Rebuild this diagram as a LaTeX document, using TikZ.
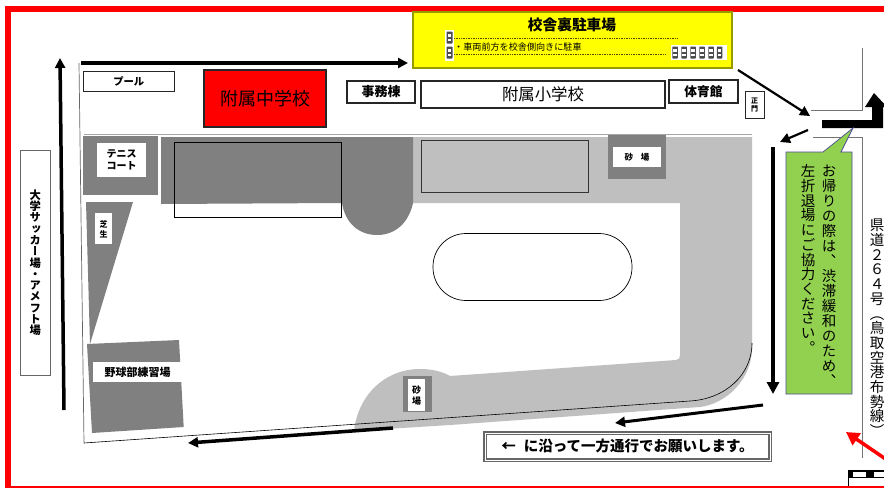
\documentclass[tikz,border=0pt]{standalone}
\usepackage{fontspec}
\setmainfont{Noto Sans CJK JP}
\newfontfamily\vjp[RawFeature=+vert]{Noto Sans CJK JP}
\usetikzlibrary{arrows.meta}
\definecolor{dk}{HTML}{808080}
\definecolor{lt}{HTML}{BFBFBF}
\definecolor{grn}{HTML}{92D050}
\definecolor{yel}{HTML}{FFFF00}
\definecolor{rd}{HTML}{FF0000}
\makeatletter
\newcommand{\vst}[2]{\vbox{\vjp\offinterlineskip\@tfor\vc:=#2\do{\hbox to #1{\vrule height .86\dimexpr#1\relax depth .14\dimexpr#1\relax width 0pt \hss\smash{\vc}\hss}}}}
\makeatother
\tikzset{
 x=1pt,y=-1pt,
 box/.style={draw=black!85,line width=1.1pt,fill=white,inner sep=0pt,font=\bfseries\fontsize{13}{14}\selectfont},
 lab/.style={fill=white,inner sep=0pt,font=\bfseries\fontsize{10}{12}\selectfont},
 arw/.style={draw=black,line width=#1,-{Triangle[length=10pt,width=10pt]}},
 arw/.default=3pt,
 thin line/.style={draw=black!55,line width=.6pt}
}
\newcommand{\car}[3]{\fill[black!70,rounded corners=.6pt] (#1-#3*.5,#2-6) rectangle (#1+#3*.5,#2+6);
 \fill[white] (#1-#3*.3,#2-3.5) rectangle (#1+#3*.3,#2-1); \fill[white] (#1-#3*.3,#2+1) rectangle (#1+#3*.3,#2+3.5);}
\begin{document}
\begin{tikzpicture}
\useasboundingbox (0,0) rectangle (884,488);
\fill[white] (0,0) rectangle (884,488);
% frame
\fill[rd] (5,6) rectangle (884,12);
\fill[rd] (5,6) rectangle (11,488);
\fill[rd] (5,486) rectangle (884,488);
% grounds
\fill[lt] (413,137) -- (752,137) -- (752,343) .. controls (754,380) and (725,404) .. (700,407) -- (450,425) -- (354,431)
  .. controls (358,395) and (385,369) .. (420,369) .. controls (431,369) and (441,371) .. (450,376)
  -- (676,360) .. controls (679,360) and (680,358) .. (680,355) -- (680,203) -- (413,203) -- cycle;
\fill[dk] (161,137) -- (413,137) -- (413,203) .. controls (409,222) and (396,235) .. (377,235) .. controls (358,235) and (345,222) .. (342,203) -- (161,204) -- cycle;
% site outline
\coordinate (sa) at (79,63); \coordinate (sb) at (84,443); \coordinate (sc) at (690,401); \coordinate (sd) at (752,343);
\draw[black!60,line width=.7pt] (sa) -- (sb);
\draw[black,line width=.6pt] (sb) -- (sc) .. controls (725,399) and (752,375) .. (sd);
\draw[black!35,line width=1pt] (84,134.5) -- (752,134.5);
\draw[black,line width=.7pt] (174.5,142) rectangle (341.5,217);
\draw[black!80,fill=lt,line width=.7pt] (421,140) rectangle (588,192);
\draw[black,fill=white,line width=.7pt,rounded corners=33pt] (433,233.5) rectangle (632,300.5);
% dark areas
\fill[dk] (83,136) rectangle (158,195);
\node[lab,minimum width=49pt,minimum height=34pt,align=center] (tennis) at (121.5,159.5) {テニス\\コート};
\fill[dk] (86,202) -- (133,202) -- (90,344) -- cycle;
\node[lab,minimum width=17pt,minimum height=31pt,font=\bfseries\fontsize{8}{9}\selectfont] (shiba) at (103.5,228.5) {\vst{10pt}{芝生}};
\fill[dk] (87,344) -- (179,340) -- (183.7,427) -- (92,433) -- cycle;
\node[lab,minimum width=88.5pt,minimum height=20pt,font=\bfseries\fontsize{11}{12}\selectfont] (yakyu) at (137.5,372) {野球部練習場};
\fill[dk] (608,135) rectangle (666,179);
\node[lab,minimum width=48pt,minimum height=20pt,font=\bfseries\fontsize{8.5}{9}\selectfont] (suna1) at (637,157) {砂\hspace{.9em}場};
\fill[dk] (403,376) rectangle (432,412);
\node[lab,minimum width=17pt,minimum height=32pt,font=\bfseries\fontsize{9}{10}\selectfont] (suna2) at (416.5,395) {\vst{10.5pt}{砂場}};
% buildings
\node[box,minimum width=91pt,minimum height=20pt,line width=.7pt,font=\bfseries\fontsize{10.3}{11}\selectfont] (pool) at (128.7,81) {プール};
\node[box,fill=rd,minimum width=122pt,minimum height=57pt,font=\fontsize{18}{20}\selectfont] (jhs) at (265,98.5) {附属中学校};
\node[box,minimum width=68pt,minimum height=22pt] (office) at (381,92) {事務棟};
\node[box,minimum width=244pt,minimum height=27pt,font=\fontsize{16.4}{18}\selectfont] (es) at (543,94.5) {附属小学校};
\node[box,minimum width=69pt,minimum height=23pt,font=\bfseries\fontsize{12.7}{14}\selectfont] (gym) at (703.5,91.5) {体育館};
\node[box,minimum width=19pt,minimum height=27pt,line width=1pt,font=\bfseries\fontsize{7}{8}\selectfont] (gate) at (754.5,104.5) {\vst{8.5pt}{正門}};
% parking
\node[draw=black!40!yel,line width=1.2pt,fill=yel,minimum width=319pt,minimum height=56pt,inner sep=0pt] (park) at (572.5,40) {};
\node[inner sep=0pt,font=\bfseries\fontsize{14.7}{16}\selectfont] (parkt) at (572,25) {校舎裏駐車場};
\node[inner sep=0pt,anchor=west,font=\fontsize{9.1}{10}\selectfont] (parkn) at (454,47) {・車両前方を校舎側向きに駐車};
\draw[densely dotted,black!70!yel,line width=.7pt] (454,38) -- (677,38);
\draw[densely dotted,black!70!yel,line width=.7pt] (454,54) -- (665,54);
\fill[white] (445,30) rectangle (454,61);
\car{449.5}{37.5}{6}\car{449.5}{52.5}{6}
\fill[white] (671,45) rectangle (727,60);
\car{675}{52.5}{5.5}\car{684}{52.5}{5.5}\car{693}{52.5}{5.5}\car{702}{52.5}{5.5}\car{711}{52.5}{5.5}\car{719.5}{52.5}{5.5}
% road lines
\draw[thin line] (862,48) -- (862,110) -- (811,110);
\draw[thin line] (813,137) -- (862,137) -- (862,458);
% left box
\node[draw=black!60,fill=white,line width=.7pt,minimum width=29.5pt,minimum height=225pt,inner sep=0pt,font=\bfseries\fontsize{11.3}{12}\selectfont] (ground) at (35.2,263) {\vst{11.3pt}{大学サッカー場・アメフト場}};
% arrows
\coordinate (a1) at (64,410); \coordinate (a2) at (60,58);
\draw[arw=3.5pt] (a1) -- (a2);
\coordinate (t1) at (81,63); \coordinate (t2) at (408,63);
\draw[arw=3.5pt] (t1) -- (t2);
\coordinate (r1) at (738,70); \coordinate (r2) at (810,116);
\draw[arw=2.2pt] (r1) -- (r2);
\coordinate (r3) at (808,130); \coordinate (r4) at (780,142);
\draw[arw=2.2pt] (r3) -- (r4);
\coordinate (r5) at (773,147); \coordinate (r6) at (773,394);
\draw[draw=black,line width=3.5pt,-{Triangle[length=12pt,width=12pt]}] (r5) -- (r6);
\coordinate (r7) at (763,405); \coordinate (r8) at (615,423);
\draw[arw=3pt] (r7) -- (r8);
\coordinate (b1) at (393,428); \coordinate (b2) at (188,443);
\draw[arw=3.5pt] (b1) -- (b2);
% entry arrow
\fill[black] (822,120) -- (872,120) -- (872,107) -- (865,107) -- (874,93) -- (887,107) -- (883,107) -- (883,128) -- (822,128) -- cycle;
% callout
\path[draw=black!30!blue!40!gray,fill=grn,line width=.7pt] (786,152) -- (823,152) -- (853,128) -- (841,152) -- (852,152) -- (852,394) -- (786,394) -- cycle;
\node[inner sep=0pt,anchor=north,font=\fontsize{14.5}{15}\selectfont] (c1) at (829,163) {\vst{15pt}{お帰りの際は、渋滞緩和のため、}};
\node[inner sep=0pt,anchor=north,font=\fontsize{14.5}{15}\selectfont] (c2) at (808,164) {\vst{14.7pt}{左折退場にご協力ください。}};
\node[inner sep=0pt,anchor=north,font=\fontsize{14.5}{15}\selectfont] (rd) at (877,218) {\vst{14.7pt}{県道２６４号（鳥取空港布勢線）}};
% note
\node[draw=black!60,double=white,double distance=1pt,line width=1.4pt,fill=white,minimum width=285pt,minimum height=27pt,inner sep=0pt,font=\bfseries\fontsize{14.5}{15}\selectfont] (note) at (627.5,446.5) {←\hspace{.55em}に沿って一方通行でお願いします。};
% red arrow
\coordinate (ra) at (890,462); \coordinate (rb) at (846,432);
\draw[rd,line width=3.5pt,-{Triangle[length=13pt,width=14pt]}] (ra) -- (rb);
% bottom right
\fill[black] (848,470) rectangle (884,478);
\fill[white] (853,472) rectangle (866,476.5);
\fill[white] (874,472) rectangle (884,476.5);
\draw[black,line width=.8pt] (848,470) -- (848,486);
\end{tikzpicture}
\end{document}
